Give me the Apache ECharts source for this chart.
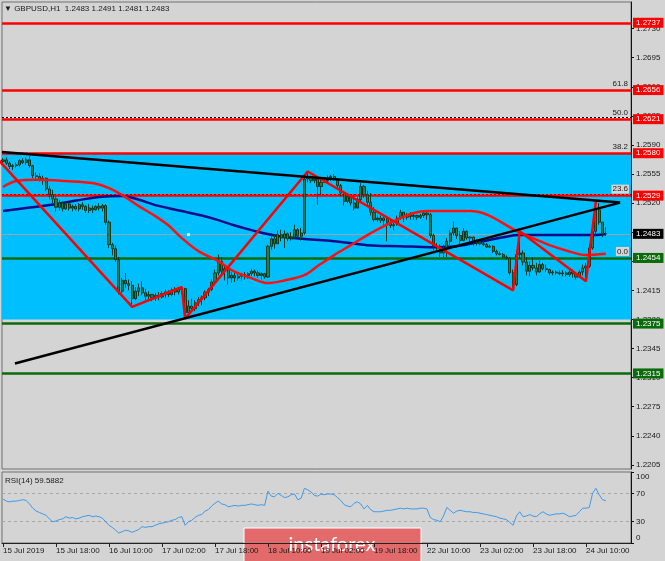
<!DOCTYPE html>
<html>
<head>
<meta charset="utf-8">
<script src="https://cdn.jsdelivr.net/npm/echarts@6/dist/echarts.min.js"></script>
<style>
html,body{margin:0;padding:0;background:#d4d4d4;overflow:hidden;}
#chart{width:665px;height:561px;}
</style>
</head>
<body>
<div id="chart"></div>
<script>
// ---------------- data ----------------
const symbolTitle = '\u25BC GBPUSD,H1  1.2483 1.2491 1.2481 1.2483';
const rsiTitle = 'RSI(14) 59.5882';
const timeTickIndex = [0,16,32,48,64,80,96,112,128,144,160,176];
const timeTickLabels = ['15 Jul 2019','15 Jul 18:00','16 Jul 10:00','17 Jul 02:00','17 Jul 18:00','18 Jul 10:00','19 Jul 02:00','19 Jul 18:00','22 Jul 10:00','23 Jul 02:00','23 Jul 18:00','24 Jul 10:00'];
const priceTicks = [1.2205,1.2240,1.2275,1.2310,1.2345,1.2380,1.2415,1.2450,1.2485,1.2520,1.2555,1.2590,1.2625,1.2660,1.2695,1.2730];
const rsiTicks = [0,30,70,100];

const firstOpen = 1.2570;
const highs = [
1.2574,1.2575,1.2570,1.2567,1.2569,1.2573,1.2574,1.2575,1.2577,1.2566,
1.2557,1.2556,1.2553,1.2551,1.2541,1.2536,1.2528,1.2524,1.2522,1.2522,
1.2521,1.2518,1.2519,1.2520,1.2521,1.2518,1.2519,1.2517,1.2518,1.2520,
1.2519,1.2519,1.2499,1.2472,1.2469,1.2455,1.2430,1.2436,1.2428,1.2426,
1.2419,1.2423,1.2426,1.2417,1.2414,1.2410,1.2412,1.2413,1.2414,1.2416,
1.2415,1.2418,1.2419,1.2419,1.2419,1.2418,1.2403,1.2405,1.2403,1.2407,
1.2409,1.2415,1.2418,1.2428,1.2440,1.2458,1.2455,1.2446,1.2442,1.2437,
1.2436,1.2435,1.2436,1.2437,1.2437,1.2441,1.2440,1.2439,1.2437,1.2436,
1.2470,1.2484,1.2482,1.2487,1.2488,1.2487,1.2485,1.2485,1.2494,1.2490,
1.2490,1.2555,1.2558,1.2553,1.2551,1.2550,1.2548,1.2551,1.2553,1.2554,
1.2555,1.2550,1.2543,1.2534,1.2532,1.2530,1.2530,1.2527,1.2544,1.2542,
1.2535,1.2532,1.2515,1.2505,1.2505,1.2505,1.2502,1.2500,1.2496,1.2505,
1.2512,1.2509,1.2508,1.2509,1.2507,1.2506,1.2507,1.2510,1.2511,1.2508,
1.2483,1.2472,1.2470,1.2470,1.2478,1.2488,1.2498,1.2490,1.2486,1.2490,
1.2487,1.2480,1.2480,1.2476,1.2476,1.2474,1.2472,1.2470,1.2469,1.2464,
1.2462,1.2460,1.2457,1.2455,1.2440,1.2463,1.2486,1.2463,1.2455,1.2450,
1.2455,1.2448,1.2451,1.2448,1.2446,1.2441,1.2439,1.2439,1.2439,1.2439,
1.2438,1.2439,1.2440,1.2435,1.2440,1.2446,1.2448,1.2470,1.2490,1.2522,
1.2520,1.2497,1.2491];
const lows = [
1.2566,1.2566,1.2561,1.2560,1.2563,1.2564,1.2567,1.2566,1.2563,1.2550,
1.2547,1.2546,1.2542,1.2534,1.2524,1.2520,1.2510,1.2511,1.2510,1.2512,
1.2511,1.2510,1.2511,1.2510,1.2512,1.2508,1.2508,1.2508,1.2511,1.2511,
1.2510,1.2494,1.2466,1.2457,1.2449,1.2410,1.2412,1.2418,1.2415,1.2395,
1.2403,1.2408,1.2409,1.2403,1.2403,1.2402,1.2402,1.2403,1.2405,1.2406,
1.2407,1.2408,1.2409,1.2410,1.2411,1.2381,1.2385,1.2389,1.2390,1.2396,
1.2397,1.2403,1.2408,1.2414,1.2421,1.2433,1.2434,1.2427,1.2422,1.2424,
1.2425,1.2427,1.2427,1.2428,1.2429,1.2432,1.2432,1.2430,1.2428,1.2429,
1.2430,1.2464,1.2465,1.2471,1.2474,1.2466,1.2474,1.2475,1.2477,1.2477,
1.2475,1.2482,1.2545,1.2544,1.2544,1.2518,1.2530,1.2544,1.2544,1.2547,
1.2547,1.2538,1.2529,1.2517,1.2520,1.2517,1.2511,1.2514,1.2522,1.2526,
1.2517,1.2505,1.2497,1.2497,1.2496,1.2494,1.2474,1.2490,1.2487,1.2493,
1.2500,1.2497,1.2500,1.2500,1.2500,1.2500,1.2501,1.2502,1.2500,1.2478,
1.2463,1.2463,1.2455,1.2455,1.2455,1.2469,1.2481,1.2477,1.2469,1.2474,
1.2476,1.2472,1.2469,1.2469,1.2469,1.2468,1.2466,1.2466,1.2460,1.2457,
1.2457,1.2454,1.2452,1.2433,1.2415,1.2420,1.2453,1.2445,1.2433,1.2432,
1.2439,1.2433,1.2436,1.2439,1.2437,1.2433,1.2433,1.2434,1.2433,1.2432,
1.2432,1.2431,1.2430,1.2428,1.2430,1.2433,1.2426,1.2442,1.2464,1.2480,
1.2494,1.2479,1.2481];
const closes = [
1.2572,1.2568,1.2564,1.2565,1.2566,1.2571,1.2569,1.2572,1.2565,1.2553,
1.2552,1.2548,1.2550,1.2537,1.2530,1.2525,1.2515,1.2520,1.2513,1.2519,
1.2514,1.2516,1.2513,1.2518,1.2516,1.2511,1.2514,1.2512,1.2516,1.2514,
1.2517,1.2497,1.2470,1.2465,1.2452,1.2414,1.2427,1.2423,1.2421,1.2405,
1.2414,1.2418,1.2412,1.2408,1.2410,1.2406,1.2409,1.2407,1.2411,1.2413,
1.2410,1.2415,1.2413,1.2416,1.2417,1.2388,1.2396,1.2393,1.2400,1.2404,
1.2406,1.2413,1.2416,1.2425,1.2436,1.2450,1.2438,1.2441,1.2430,1.2433,
1.2430,1.2432,1.2434,1.2433,1.2435,1.2438,1.2436,1.2433,1.2435,1.2431,
1.2468,1.2477,1.2471,1.2482,1.2478,1.2483,1.2477,1.2479,1.2488,1.2480,
1.2484,1.2549,1.2552,1.2547,1.2549,1.2540,1.2545,1.2547,1.2550,1.2552,
1.2549,1.2541,1.2532,1.2522,1.2528,1.2520,1.2514,1.2524,1.2540,1.2530,
1.2521,1.2509,1.2500,1.2502,1.2499,1.2502,1.2497,1.2493,1.2494,1.2502,
1.2509,1.2503,1.2506,1.2504,1.2505,1.2503,1.2505,1.2508,1.2506,1.2481,
1.2468,1.2467,1.2460,1.2466,1.2474,1.2484,1.2490,1.2481,1.2475,1.2486,
1.2478,1.2479,1.2474,1.2473,1.2471,1.2470,1.2467,1.2468,1.2462,1.2459,
1.2458,1.2455,1.2454,1.2436,1.2422,1.2458,1.2460,1.2449,1.2438,1.2445,
1.2442,1.2437,1.2446,1.2441,1.2440,1.2436,1.2437,1.2436,1.2435,1.2436,
1.2434,1.2437,1.2435,1.2431,1.2437,1.2442,1.2444,1.2466,1.2486,1.2512,
1.2497,1.2483,1.2483];
const rsi = [
62,59,58,59,59,60,61,60,55,49,
45,43,41,39,34,30,31,33,34,37,
35,36,34,35,37,38,39,37,38,37,
35,30,25,22,18,14,16,18,17,15,
17,19,23,22,23,23,25,27,28,29,
30,32,33,36,37,25,30,32,36,39,
40,45,47,52,56,59,55,54,51,52,
53,52,53,53,54,55,54,53,54,53,
73,66,65,70,67,64,65,68,69,61,
63,77,75,72,67,66,69,68,69,69,
68,64,60,54,52,51,56,58,55,48,
53,47,44,44,44,45,46,46,47,48,
49,48,49,48,48,48,49,49,48,36,
33,32,30,38,50,46,42,45,46,45,
44,44,43,43,42,41,40,39,38,37,
35,34,33,29,25,38,44,37,38,40,
38,37,41,44,41,39,40,41,41,42,
40,37,38,39,44,49,49,50,70,77,
68,61,59.5882];

// overlays: [bar index, price]
const blueMA = [[0,1.25104],[7,1.25140],[14,1.25176],[22,1.25230],[29,1.25272],[36,1.25284],[41,1.25240],[46,1.25176],[54,1.25104],[60,1.25050],[65,1.24995],[70,1.24930],[75,1.24875],[83,1.24803],[91,1.24767],[100,1.24742],[110,1.24694],[120,1.24682],[129,1.24670],[137,1.24682],[145,1.24742],[151,1.24790],[156,1.24815],[165,1.24815],[179,1.24815],[182,1.24827]];
const redMA = [[0,1.25393],[4,1.25465],[10,1.25480],[19,1.25465],[27,1.25441],[32,1.25380],[36,1.25296],[41,1.25164],[46,1.25043],[50,1.24930],[54,1.24779],[59,1.24622],[65,1.24502],[69,1.24394],[75,1.24297],[80,1.24237],[84,1.24261],[91,1.24333],[95,1.24442],[100,1.24574],[105,1.24694],[110,1.24815],[115,1.24923],[120,1.25019],[124,1.25080],[128,1.25104],[141,1.25104],[157,1.24827],[161,1.24760],[165,1.24694],[170,1.24630],[176,1.24574],[182,1.24590]];
const zigzag = [[-3,1.2579],[39,1.2395],[54,1.2419],[55,1.2381],[92,1.2558],[154,1.2415],[156,1.2486],[176,1.2426],[179,1.2522]];
const trendUpper = [[-0.3,1.25814],[186.3,1.25206]];
const trendLower = [[3.6,1.23269],[186.3,1.25206]];
const whiteMark = [[56,1.2482]];

const bandLevels = [1.2580, 1.2380];
const redLevels = [1.2737, 1.2656, 1.2621, 1.2580, 1.2529];
const greenLevels = [1.2454, 1.2375, 1.2315];
const bidPrice = 1.2483;
const fibLabels = ['61.8','50.0','38.2','23.6','0.0'];
const fibLevels = [1.2656, 1.2621, 1.2580, 1.2529, 1.2454];
const fibDotted = [1.2623, 1.2531];
const rsiLevels = [30, 70];

// ---------------- chart ----------------
const FONT = '"Liberation Sans", Arial, sans-serif';
const X_MIN = -0.3, X_MAX = 189.6;
const BG = '#d4d4d4';
const RED = '#ff0000', GREEN = '#0a6b0a';

const candleData = closes.map((c, i) => [i, i === 0 ? firstOpen : closes[i - 1], c, lows[i], highs[i]]);
const rsiData = rsi.map((v, i) => [i, v]);

const levelLine = (v, color) => ({
  yAxis: v,
  lineStyle: { color: color, width: 2.5, type: 'solid' },
  label: {
    show: true, position: 'end', distance: 2,
    formatter: v.toFixed(4),
    color: '#fff', backgroundColor: color,
    fontFamily: FONT, fontSize: 8, lineHeight: 9, padding: [1, 3, 0, 3]
  }
});

const chart = echarts.init(document.getElementById('chart'), null, { renderer: 'canvas' });
chart.setOption({
  animation: false,
  backgroundColor: BG,
  textStyle: { fontFamily: FONT },
  title: [
    { text: symbolTitle, left: 4, top: 4, padding: 0,
      textStyle: { fontFamily: FONT, fontSize: 8, fontWeight: 'normal', color: '#1a1a1a', lineHeight: 9 } },
    { text: rsiTitle, left: 5, top: 476, padding: 0,
      textStyle: { fontFamily: FONT, fontSize: 8, fontWeight: 'normal', color: '#1a1a1a', lineHeight: 9 } }
  ],
  grid: [
    { left: 2, top: 2, width: 629, height: 467, show: true, borderColor: '#707070', borderWidth: 1, backgroundColor: 'transparent' },
    { left: 2, top: 472, width: 629, height: 71, show: true, borderColor: '#707070', borderWidth: 1, backgroundColor: 'transparent' }
  ],
  xAxis: [
    { type: 'value', gridIndex: 0, min: X_MIN, max: X_MAX, show: false, splitLine: { show: false } },
    { type: 'value', gridIndex: 1, min: X_MIN, max: X_MAX, position: 'bottom',
      splitLine: { show: false },
      axisLine: { show: true, onZero: false, lineStyle: { color: '#222', width: 1 } },
      axisTick: { show: true, customValues: timeTickIndex, length: 4, lineStyle: { color: '#222' } },
      axisLabel: { show: true, customValues: timeTickIndex, align: 'left', margin: 4,
        fontFamily: FONT, fontSize: 8, color: '#1a1a1a',
        formatter: v => timeTickLabels[timeTickIndex.indexOf(v)] || '' } }
  ],
  yAxis: [
    { type: 'value', gridIndex: 0, position: 'right', min: 1.2200, max: 1.2762, scale: true,
      splitLine: { show: false },
      axisLine: { show: true, onZero: false, lineStyle: { color: '#111', width: 1 } },
      axisTick: { show: true, customValues: priceTicks, length: 3, lineStyle: { color: '#111' } },
      axisLabel: { show: true, customValues: priceTicks, margin: 5, fontFamily: FONT, fontSize: 8, color: '#1a1a1a',
        formatter: v => v.toFixed(4) } },
    { type: 'value', gridIndex: 1, position: 'right', min: 0, max: 100,
      splitLine: { show: false },
      axisLine: { show: true, onZero: false, lineStyle: { color: '#111', width: 1 } },
      axisTick: { show: true, customValues: rsiTicks, length: 3, lineStyle: { color: '#111' } },
      axisLabel: { show: true, customValues: rsiTicks, margin: 5, fontFamily: FONT, fontSize: 8, color: '#1a1a1a',
        formatter: v => v === 100 ? '{t|100}' : (v === 0 ? '{b|0}' : String(v)),
        rich: {
          t: { fontFamily: FONT, fontSize: 8, color: '#1a1a1a', padding: [10, 0, 0, 0] },
          b: { fontFamily: FONT, fontSize: 8, color: '#1a1a1a', padding: [0, 0, 10, 0] }
        } } }
  ],
  series: [
    { name: 'band', type: 'line', xAxisIndex: 0, yAxisIndex: 0, data: [], z: 1, silent: true,
      markArea: { silent: true, itemStyle: { color: '#00bfff' },
        data: [[{ yAxis: bandLevels[0] }, { yAxis: bandLevels[1] }]] } },
    { name: 'fibBase', type: 'line', xAxisIndex: 0, yAxisIndex: 0, data: [], z: 2, silent: true,
      markLine: { silent: true, precision: 5, symbol: ['none', 'none'], label: { show: false },
        lineStyle: { color: '#f4f4f4', width: 1, type: 'solid' },
        data: fibDotted.map(v => ({ yAxis: v })) } },
    { name: 'fibDots', type: 'line', xAxisIndex: 0, yAxisIndex: 0, data: [], z: 3, silent: true,
      markLine: { silent: true, precision: 5, symbol: ['none', 'none'], label: { show: false },
        lineStyle: { color: '#000', width: 1, type: [2, 2] },
        data: fibDotted.map(v => ({ yAxis: v })) } },
    { name: 'bid', type: 'line', xAxisIndex: 0, yAxisIndex: 0, data: [], z: 3, silent: true,
      markLine: { silent: true, precision: 5, symbol: ['none', 'none'],
        data: [{ yAxis: bidPrice, lineStyle: { color: '#9aa3aa', width: 1, type: 'solid' },
          label: { show: true, position: 'end', distance: 2, formatter: bidPrice.toFixed(4), color: '#fff',
            backgroundColor: '#000', fontFamily: FONT, fontSize: 8, lineHeight: 9, padding: [1, 3, 0, 3] } }] } },
    { name: 'levels', type: 'line', xAxisIndex: 0, yAxisIndex: 0, data: [], z: 4, silent: true,
      markLine: { silent: true, precision: 5, symbol: ['none', 'none'],
        data: redLevels.map(v => levelLine(v, RED)).concat(greenLevels.map(v => levelLine(v, GREEN))) } },
    { name: 'MA blue', type: 'line', xAxisIndex: 0, yAxisIndex: 0, data: blueMA, z: 5,
      showSymbol: false, smooth: 0.4, lineStyle: { color: '#0b0b8a', width: 2.5 } },
    { name: 'GBPUSD', type: 'candlestick', xAxisIndex: 0, yAxisIndex: 0, data: candleData, z: 6,
      encode: { x: 0, y: [1, 2, 3, 4] }, barWidth: 2.6,
      itemStyle: { color: '#2a7a4c', color0: '#2a7a4c', borderColor: '#123a22', borderColor0: '#123a22', borderWidth: 1 } },
    { name: 'MA red', type: 'line', xAxisIndex: 0, yAxisIndex: 0, data: redMA, z: 7,
      showSymbol: false, smooth: 0.35, lineStyle: { color: '#ff1010', width: 2.5 } },
    { name: 'ZigZag', type: 'line', xAxisIndex: 0, yAxisIndex: 0, data: zigzag, z: 7,
      showSymbol: false, lineStyle: { color: '#ff0000', width: 2.5 } },
    { name: 'trend upper', type: 'line', xAxisIndex: 0, yAxisIndex: 0, data: trendUpper, z: 8,
      showSymbol: false, lineStyle: { color: '#000', width: 2.5 } },
    { name: 'trend lower', type: 'line', xAxisIndex: 0, yAxisIndex: 0, data: trendLower, z: 8,
      showSymbol: false, lineStyle: { color: '#000', width: 2.5 } },
    { name: 'mark', type: 'scatter', xAxisIndex: 0, yAxisIndex: 0, data: whiteMark, z: 8,
      symbol: 'rect', symbolSize: 3, itemStyle: { color: '#fff' } },
    { name: 'fibText', type: 'line', xAxisIndex: 0, yAxisIndex: 0, data: [], z: 9, silent: true,
      markLine: { silent: true, precision: 5, symbol: ['none', 'none'],
        lineStyle: { color: 'rgba(0,0,0,0)', width: 0 },
        data: fibLevels.map((v, k) => ({ yAxis: v,
          label: { show: true, position: 'insideEndTop', distance: [2, 2], formatter: fibLabels[k],
            color: '#1a1a1a', fontFamily: FONT, fontSize: 8, lineHeight: 9,
            backgroundColor: k >= 3 ? '#d6d6d6' : 'transparent', padding: [0, 1, 0, 1] } })) } },
    { name: 'RSI(14)', type: 'line', xAxisIndex: 1, yAxisIndex: 1, data: rsiData, z: 5,
      showSymbol: false, lineStyle: { color: '#3c9aec', width: 1 },
      markLine: { silent: true, symbol: ['none', 'none'], label: { show: false },
        lineStyle: { color: '#a8a8a8', width: 1, type: [3, 3] },
        data: rsiLevels.map(v => ({ yAxis: v })) } }
  ],
  graphic: [
    { type: 'group', z: 100, children: [
      { type: 'rect', shape: { x: 244, y: 528, width: 177, height: 36 },
        style: { fill: '#e36a6a', stroke: '#ffffff', lineWidth: 1 } },
      { type: 'text', x: 332, y: 545,
        style: { text: 'instaforex', fill: '#ffffff', font: '20px Lato, "Open Sans", sans-serif', textAlign: 'center', textVerticalAlign: 'middle' } }
    ] }
  ]
});
</script>
</body>
</html>
